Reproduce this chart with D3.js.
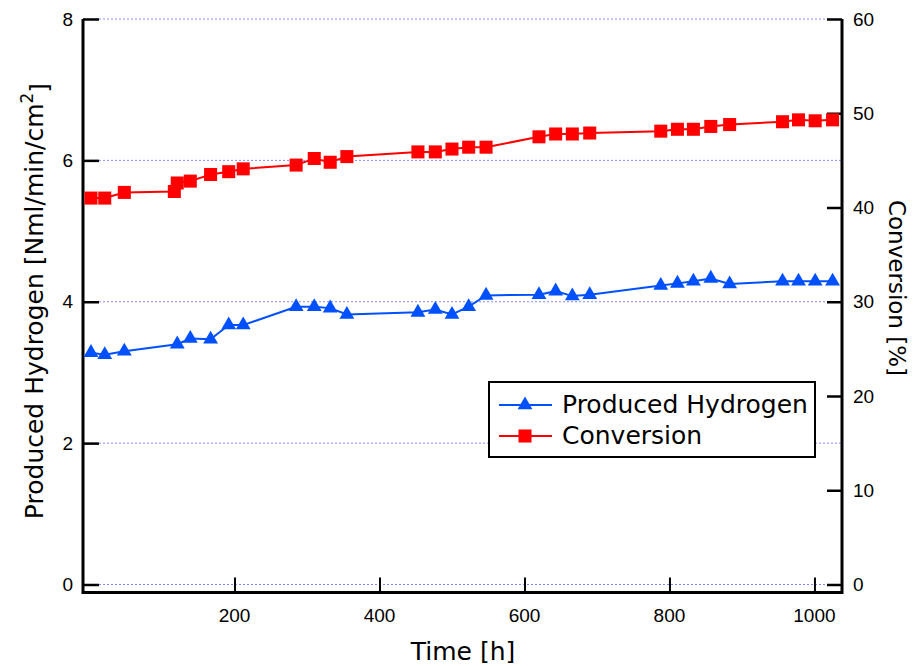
<!DOCTYPE html>
<html>
<head>
<meta charset="utf-8">
<script src="https://cdn.jsdelivr.net/npm/d3@7"></script>
<style>
  body { margin: 0; background: #fff; }
  svg text { fill: #000; }
  .tick-label { font-family: "Liberation Sans", Arial, sans-serif; font-size: 19px; }
  .axis-title { font-family: "DejaVu Sans", sans-serif; font-size: 25px; }
  .legend-text { font-family: "DejaVu Sans", sans-serif; font-size: 25px; }
</style>
</head>
<body>
<svg width="917" height="666"></svg>
<script>
// produced hydrogen (left axis)
var timeH2 = [2, 21, 48, 121, 139, 167, 192, 212, 285, 310, 332, 355, 453, 477, 500, 523, 547,
              620, 643, 666, 690, 788, 811, 833, 857, 883, 956, 978, 1001, 1025];
var h2 = [3.28, 3.25, 3.30, 3.40, 3.48, 3.47, 3.67, 3.67, 3.93, 3.93, 3.91, 3.82, 3.85, 3.89, 3.82, 3.93, 4.09,
          4.10, 4.15, 4.08, 4.10, 4.23, 4.26, 4.29, 4.33, 4.25, 4.29, 4.29, 4.29, 4.29];

// conversion (right axis)
var timeConv = [2, 21, 48, 117, 121, 139, 167, 192, 212, 285, 310, 332, 355, 453, 477, 500, 523, 547,
                620, 643, 666, 690, 788, 811, 833, 857, 883, 956, 978, 1001, 1025];
var conv = [41.0, 41.0, 41.6, 41.7, 42.6, 42.8, 43.5, 43.8, 44.1, 44.5, 45.2, 44.8, 45.4, 45.9, 45.9, 46.2, 46.4, 46.4,
            47.5, 47.8, 47.8, 47.9, 48.1, 48.3, 48.3, 48.6, 48.8, 49.1, 49.3, 49.2, 49.3];

var xTicks = [200, 400, 600, 800, 1000];
var leftTicks = [0, 2, 4, 6, 8];
var rightTicks = [0, 10, 20, 30, 40, 50, 60];
var seriesNames = ["Produced Hydrogen", "Conversion"];

var svg = d3.select("svg"),
    margin = { top: 19, right: 75, bottom: 73, left: 83 },
    width = +svg.attr("width"),
    height = +svg.attr("height");

var x = d3.scaleLinear().domain([-9, 1038]).range([margin.left, width - margin.right]);
var yL = d3.scaleLinear().domain([0, 8]).range([584.5, margin.top]);
var yR = d3.scaleLinear().domain([0, 60]).range([584.5, margin.top]);
var frameBottom = height - margin.bottom - 0.5;

var blue = "#0050ff", red = "#ff0000";

// dotted grid lines
svg.append("g")
    .selectAll("line")
    .data(leftTicks)
    .enter().append("line")
    .attr("x1", x.range()[0]).attr("x2", x.range()[1])
    .attr("y1", function(d) { return yL(d); })
    .attr("y2", function(d) { return yL(d); })
    .attr("stroke", "#8a8aff")
    .attr("stroke-width", 1)
    .attr("stroke-dasharray", "2,2");

// left axis
var left = svg.append("g").attr("transform", "translate(" + margin.left + ",0)")
    .call(d3.axisRight(yL).tickValues(leftTicks).tickSize(16).tickFormat(""));
left.select(".domain").remove();
left.selectAll("line").attr("stroke-width", 2.5);
svg.append("g").selectAll("text")
    .data(leftTicks).enter().append("text")
    .attr("class", "tick-label")
    .attr("x", margin.left - 10)
    .attr("y", function(d) { return yL(d); })
    .attr("dy", "0.35em")
    .attr("text-anchor", "end")
    .text(function(d) { return d; });

// right axis
var right = svg.append("g").attr("transform", "translate(" + (width - margin.right) + ",0)")
    .call(d3.axisLeft(yR).tickValues(rightTicks).tickSize(15).tickFormat(""));
right.select(".domain").remove();
right.selectAll("line").attr("stroke-width", 2.5);
svg.append("g").selectAll("text")
    .data(rightTicks).enter().append("text")
    .attr("class", "tick-label")
    .attr("x", width - margin.right + 11)
    .attr("y", function(d) { return yR(d); })
    .attr("dy", "0.35em")
    .text(function(d) { return d; });

// bottom axis
var bottom = svg.append("g").attr("transform", "translate(0," + frameBottom + ")")
    .call(d3.axisTop(x).tickValues(xTicks).tickSize(15).tickFormat(""));
bottom.select(".domain").remove();
bottom.selectAll("line").attr("stroke-width", 2);
svg.append("g").selectAll("text")
    .data(xTicks).enter().append("text")
    .attr("class", "tick-label")
    .attr("x", function(d) { return x(d); })
    .attr("y", frameBottom + 29)
    .attr("text-anchor", "middle")
    .text(function(d) { return d; });

// frame: left, bottom, right
svg.append("path")
    .attr("d", "M" + margin.left + "," + margin.top + "V" + frameBottom +
               "H" + (width - margin.right) + "V" + margin.top)
    .attr("fill", "none")
    .attr("stroke", "#000")
    .attr("stroke-width", 3);

// titles
svg.append("text")
    .attr("class", "axis-title")
    .attr("x", 463).attr("y", 660)
    .attr("text-anchor", "middle")
    .text("Time [h]");

var lt = svg.append("text")
    .attr("class", "axis-title")
    .attr("transform", "translate(43,301) rotate(-90)")
    .attr("text-anchor", "middle");
lt.append("tspan").text("Produced Hydrogen [Nml/min/cm");
lt.append("tspan").attr("dy", "-0.6em").attr("font-size", "17px").text("2");
lt.append("tspan").attr("dy", "0.6em").text("]");

svg.append("text")
    .attr("class", "axis-title")
    .style("font-size", "23px")
    .attr("transform", "translate(889,288) rotate(90)")
    .attr("text-anchor", "middle")
    .text("Conversion [%]");

// series
var lineH2 = d3.line().x(function(d, i) { return x(timeH2[i]); }).y(function(d) { return yL(d); });
var lineConv = d3.line().x(function(d, i) { return x(timeConv[i]); }).y(function(d) { return yR(d); });

svg.append("path").datum(conv).attr("d", lineConv)
    .attr("fill", "none").attr("stroke", red).attr("stroke-width", 2);
svg.append("path").datum(h2).attr("d", lineH2)
    .attr("fill", "none").attr("stroke", blue).attr("stroke-width", 2);

var sq = d3.symbol().type(d3.symbolSquare).size(170);
var tri = d3.symbol().type(d3.symbolTriangle).size(95);

svg.append("g").selectAll("path")
    .data(conv).enter().append("path")
    .attr("d", sq)
    .attr("transform", function(d, i) { return "translate(" + x(timeConv[i]) + "," + yR(d) + ")"; })
    .attr("fill", red);

svg.append("g").selectAll("path")
    .data(h2).enter().append("path")
    .attr("d", tri)
    .attr("transform", function(d, i) { return "translate(" + x(timeH2[i]) + "," + yL(d) + ")"; })
    .attr("fill", blue);

// legend
var lg = svg.append("g");
lg.append("rect")
    .attr("x", 489).attr("y", 382)
    .attr("width", 326).attr("height", 75)
    .attr("fill", "#fff").attr("stroke", "#000").attr("stroke-width", 2);

var legendRows = [
  { name: seriesNames[0], color: blue, sym: tri, y: 405 },
  { name: seriesNames[1], color: red, sym: sq, y: 436 }
];
var rows = lg.selectAll("g.row").data(legendRows).enter().append("g")
    .attr("class", "row")
    .attr("transform", function(d) { return "translate(0," + d.y + ")"; });
rows.append("line")
    .attr("x1", 499).attr("x2", 552)
    .attr("stroke", function(d) { return d.color; })
    .attr("stroke-width", 2);
rows.append("path")
    .attr("d", function(d) { return d.sym(); })
    .attr("transform", "translate(525," + 0 + ")")
    .attr("fill", function(d) { return d.color; });
rows.append("text")
    .attr("class", "legend-text")
    .attr("x", 562).attr("y", 8)
    .text(function(d) { return d.name; });
</script>
</body>
</html>
